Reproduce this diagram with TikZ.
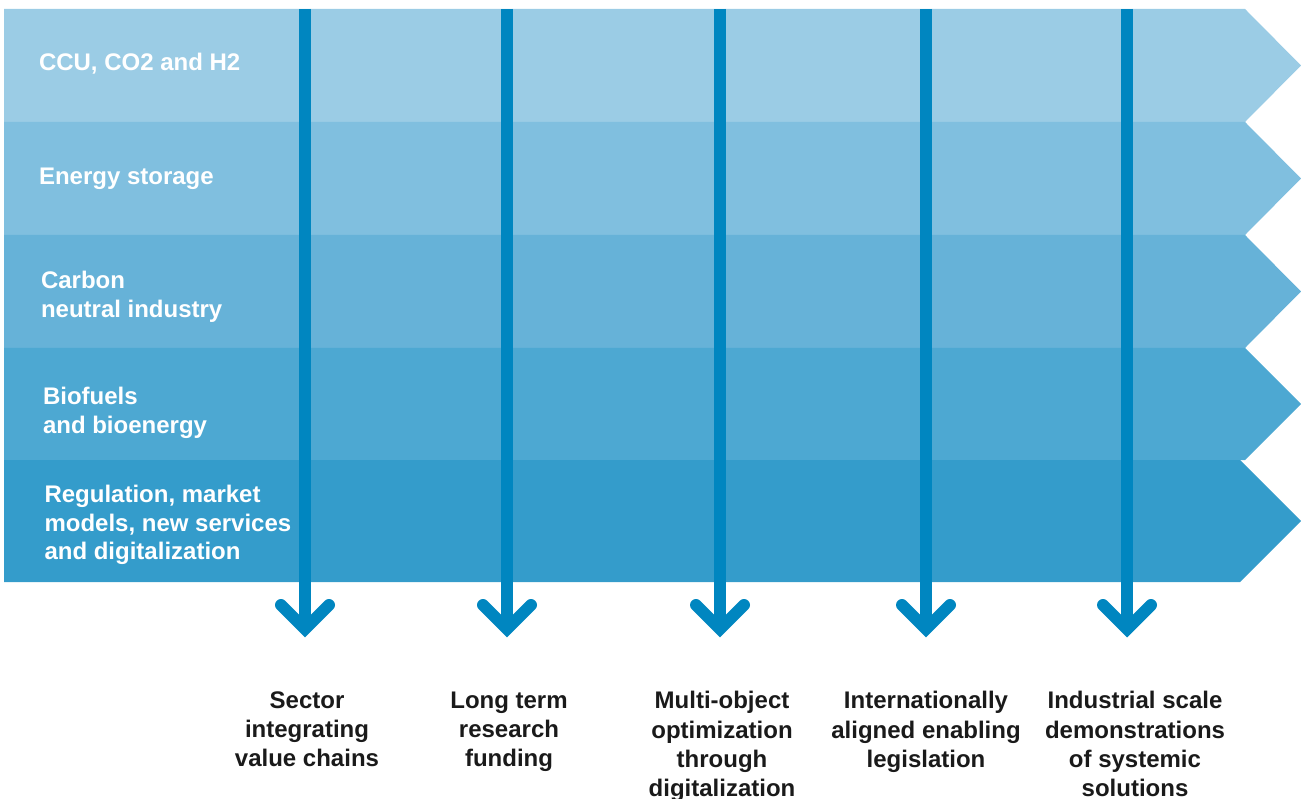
\documentclass[tikz,border=0pt]{standalone}
\usepackage{fontspec}
\setmainfont{Liberation Sans}
\begin{document}
\begin{tikzpicture}[x=1pt,y=-1pt,
  lbl/.style={inner sep=0pt,outer sep=0pt,font=\bfseries\fontsize{24}{28.8}\selectfont},
  lefttxt/.style={lbl,text=white,align=left,anchor=north west},
  bottxt/.style={lbl,font=\bfseries\fontsize{24}{29.2}\selectfont,text=txtcol,align=center,anchor=north},
  shaft/.style={draw=arrowcol,line width=12pt,line cap=butt},
  chev/.style={draw=arrowcol,line width=12pt,line cap=round,line join=miter}]
\definecolor{bandcolA}{HTML}{9BCCE5}
\definecolor{bandcolB}{HTML}{80BFDF}
\definecolor{bandcolC}{HTML}{66B2D8}
\definecolor{bandcolD}{HTML}{4DA8D2}
\definecolor{bandcolE}{HTML}{349CCB}
\definecolor{arrowcol}{HTML}{0086C0}
\definecolor{txtcol}{HTML}{1A1A1A}
\useasboundingbox (0,0) rectangle (1301,799);
% bands
\fill[bandcolA] (4,9) -- (1245,9) -- (1301,65.5) -- (1245,122) -- (4,122) -- cycle;
\fill[bandcolB] (4,122) -- (1245,122) -- (1301,178.5) -- (1245,235) -- (4,235) -- cycle;
\fill[bandcolC] (4,235) -- (1245,235) -- (1301,291.5) -- (1245,348) -- (4,348) -- cycle;
\fill[bandcolD] (4,348) -- (1245,348) -- (1301,404) -- (1245,460) -- (4,460) -- cycle;
\fill[bandcolE] (4,460) -- (1240,460) -- (1301,521) -- (1240,582) -- (4,582) -- cycle;
% left labels
\node[lefttxt] (l1) at (39,53.4) {CCU, CO2 and H2};
\node[lefttxt] (l2) at (39,167.5) {Energy storage};
\node[lefttxt] (l3) at (41,271.5) {Carbon\\neutral industry};
\node[lefttxt] (l4) at (43,387.5) {Biofuels\\and bioenergy};
\node[lefttxt] (l5) at (44.5,485) {Regulation, market\\models, new services\\and digitalization};
% arrows
\foreach \i/\x in {1/305,2/507,3/720,4/926,5/1127}{
  \coordinate (t\i) at (\x,9);
  \coordinate (v\i) at (\x,629);
  \coordinate (cl\i) at (\x-24,605);
  \coordinate (cr\i) at (\x+24,605);
  \draw[shaft] (t\i) -- (v\i);
  \draw[chev] (cl\i) -- (v\i) -- (cr\i);
}
% bottom labels
\node[bottxt] (b1) at (307,691.5) {Sector\\integrating\\value chains};
\node[bottxt] (b2) at (509,691.5) {Long term\\research\\funding};
\node[bottxt] (b3) at (722,691.5) {Multi-object\\optimization\\through\\digitalization};
\node[bottxt] (b4) at (926,691.5) {Internationally\\aligned enabling\\legislation};
\node[bottxt] (b5) at (1135,691.5) {Industrial scale\\demonstrations\\of systemic\\solutions};
\end{tikzpicture}
\end{document}
